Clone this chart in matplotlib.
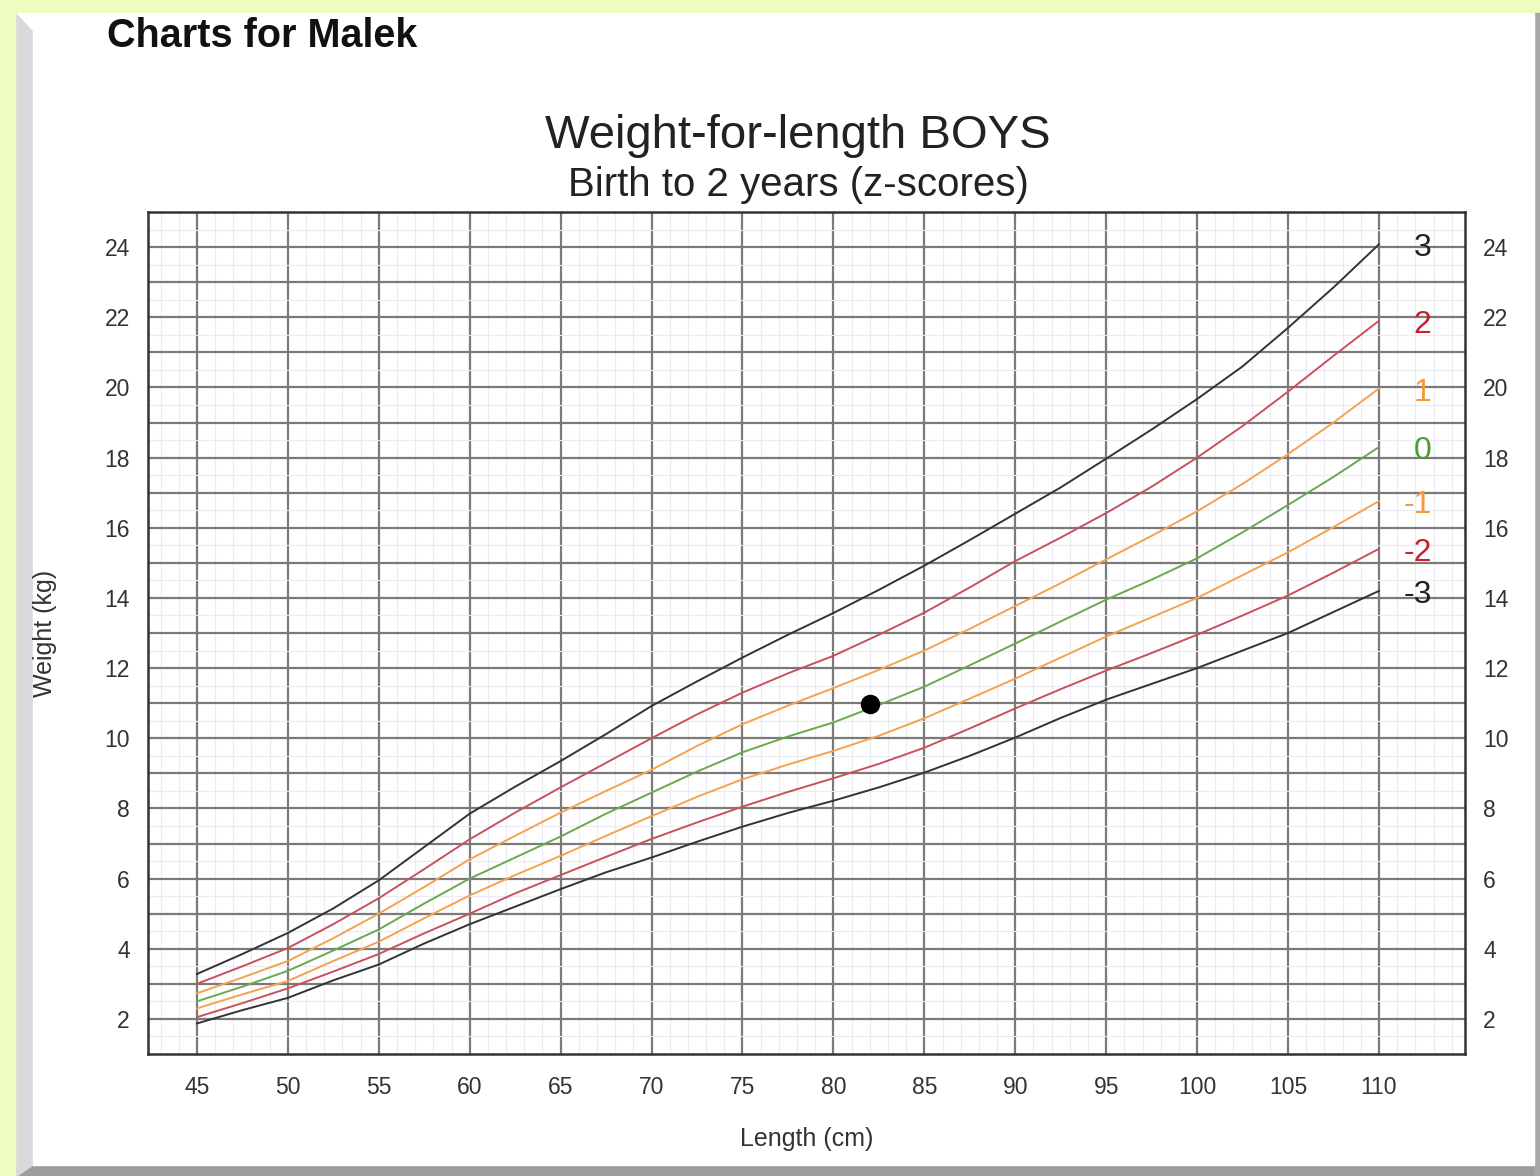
import numpy as np
import matplotlib
matplotlib.use('Agg')
import matplotlib.pyplot as plt
from matplotlib.patches import Rectangle, Polygon

plt.rcParams['font.family'] = ['Liberation Sans', 'DejaVu Sans']

# length (cm) and weight (kg) z-score curves
length = [45, 47.5, 50, 52.5, 55, 57.5, 60, 62.5, 65, 67.5, 70, 72.5, 75, 77.5,
          80, 82.5, 85, 87.5, 90, 92.5, 95, 97.5, 100, 102.5, 105, 107.5, 110]
sd_m3 = [1.87, 2.25, 2.6, 3.1, 3.55, 4.15, 4.7, 5.2, 5.7, 6.18, 6.6, 7.05, 7.48, 7.87,
         8.22, 8.6, 9.02, 9.5, 10.02, 10.58, 11.1, 11.55, 12.0, 12.5, 13.0, 13.6, 14.2]
sd_m2 = [2.05, 2.45, 2.87, 3.35, 3.85, 4.44, 5.0, 5.58, 6.1, 6.62, 7.13, 7.6, 8.05, 8.47,
         8.86, 9.27, 9.73, 10.28, 10.85, 11.4, 11.93, 12.43, 12.95, 13.5, 14.07, 14.72, 15.4]
sd_m1 = [2.3, 2.7, 3.08, 3.65, 4.2, 4.87, 5.52, 6.1, 6.65, 7.22, 7.78, 8.33, 8.83, 9.25,
         9.64, 10.07, 10.57, 11.13, 11.7, 12.3, 12.9, 13.45, 14.0, 14.65, 15.3, 16.02, 16.76]
sd_0 = [2.5, 2.92, 3.37, 3.95, 4.55, 5.29, 6.0, 6.6, 7.2, 7.85, 8.45, 9.05, 9.6, 10.05,
        10.45, 10.95, 11.47, 12.08, 12.7, 13.33, 13.95, 14.52, 15.13, 15.87, 16.65, 17.45, 18.3]
sd_p1 = [2.73, 3.18, 3.65, 4.3, 5.0, 5.76, 6.55, 7.22, 7.88, 8.5, 9.1, 9.78, 10.4, 10.93,
         11.43, 11.95, 12.5, 13.12, 13.77, 14.42, 15.1, 15.77, 16.47, 17.25, 18.1, 19.0, 19.97]
sd_p2 = [3.0, 3.5, 4.02, 4.7, 5.44, 6.27, 7.12, 7.88, 8.6, 9.3, 10.0, 10.68, 11.3, 11.85,
         12.35, 12.95, 13.58, 14.3, 15.05, 15.72, 16.42, 17.17, 18.0, 18.9, 19.88, 20.9, 21.9]
sd_p3 = [3.28, 3.85, 4.45, 5.15, 5.95, 6.9, 7.85, 8.62, 9.35, 10.12, 10.92, 11.62, 12.3, 12.95,
         13.57, 14.23, 14.92, 15.65, 16.4, 17.15, 17.97, 18.8, 19.67, 20.6, 21.7, 22.85, 24.08]

z_labels = ['3', '2', '1', '0', '-1', '-2', '-3']
curves = [sd_p3, sd_p2, sd_p1, sd_0, sd_m1, sd_m2, sd_m3]
line_colors = ['#333333', '#c9505c', '#f5a24e', '#6aa84f', '#f5a24e', '#c9505c', '#333333']
label_colors = ['#222222', '#c8202e', '#f59a3c', '#4e9a36', '#f59a3c', '#c8202e', '#222222']

child_length = [82]
child_weight = [10.97]

W, H = 1540, 1176
fig = plt.figure(figsize=(W / 100, H / 100), dpi=100, facecolor='#effcc0')


def px(x, y):
    return (x / W, 1 - y / H)


# frame: white panel with grey bevel
frame = [
    Rectangle(px(17, 1176), 1523 / W, 11 / H, color='#9c9c9c'),
    Rectangle(px(1534, 1176), 6 / W, 1163 / H, color='#a8a8a8'),
    Polygon([px(17, 13), px(33, 30), px(33, 1165), px(17, 1176)], closed=True, color='#d9d9dd'),
    Rectangle(px(33, 1165), 1501 / W, 1152 / H, color='white'),
    Polygon([px(17, 13), px(33, 13), px(33, 30)], closed=True, color='white'),
]
for p in frame:
    p.set_transform(fig.transFigure)
    p.set_zorder(-10)
    fig.patches.append(p)

fig.text(107 / W, 1 - 36 / H, 'Charts for Malek', fontsize=28.5, fontweight='bold',
         ha='left', va='center', color='#111111')
fig.text(798 / W, 1 - 136 / H, 'Weight-for-length BOYS', fontsize=34,
         ha='center', va='center', color='#222222')
fig.text(798 / W, 1 - 185 / H, 'Birth to 2 years (z-scores)', fontsize=29,
         ha='center', va='center', color='#222222')

ax = fig.add_axes([148 / W, 1 - 1054 / H, (1465 - 148) / W, (1054 - 212) / H])
ax.set_zorder(5)
ax.set_xlim(42.31, 114.73)
ax.set_ylim(1, 25)

ax.set_xticks(np.arange(45, 111, 5))
ax.set_xticks(np.arange(43, 115, 1), minor=True)
ax.set_yticks(np.arange(2, 25, 1))
ax.set_yticks(np.arange(1, 25.01, 0.5), minor=True)
ax.grid(which='minor', color='#ebebf5', linewidth=0.8, zorder=1)
ax.grid(which='major', color='#7a7a7a', linewidth=1.6, zorder=2)

ax.set_yticklabels([str(v) if v % 2 == 0 else '' for v in range(2, 25)])
ax.tick_params(which='both', length=0)
ax.tick_params(axis='x', pad=16, labelsize=16.5, labelcolor='#333333')
ax.tick_params(axis='y', pad=13, labelsize=16.5, labelcolor='#333333',
               labelright=True)
for s in ax.spines.values():
    s.set_color('#333333')
    s.set_linewidth(1.8)

for vals, lc, tc, lab in zip(curves, line_colors, label_colors, z_labels):
    ax.plot(length, vals, color=lc, linewidth=1.4, zorder=3)
    ax.text(112.9, vals[-1] - 0.12, lab, color=tc, fontsize=23, ha='right', va='center', zorder=4)

ax.plot(child_length, child_weight, 'o', color='black', markersize=13, zorder=5)

ax.set_xlabel('Length (cm)', fontsize=18, color='#333333', labelpad=20)
ax.set_ylabel('Weight (kg)', fontsize=18, color='#333333', labelpad=34)

fig.savefig('out.png', dpi=100, facecolor=fig.get_facecolor())
